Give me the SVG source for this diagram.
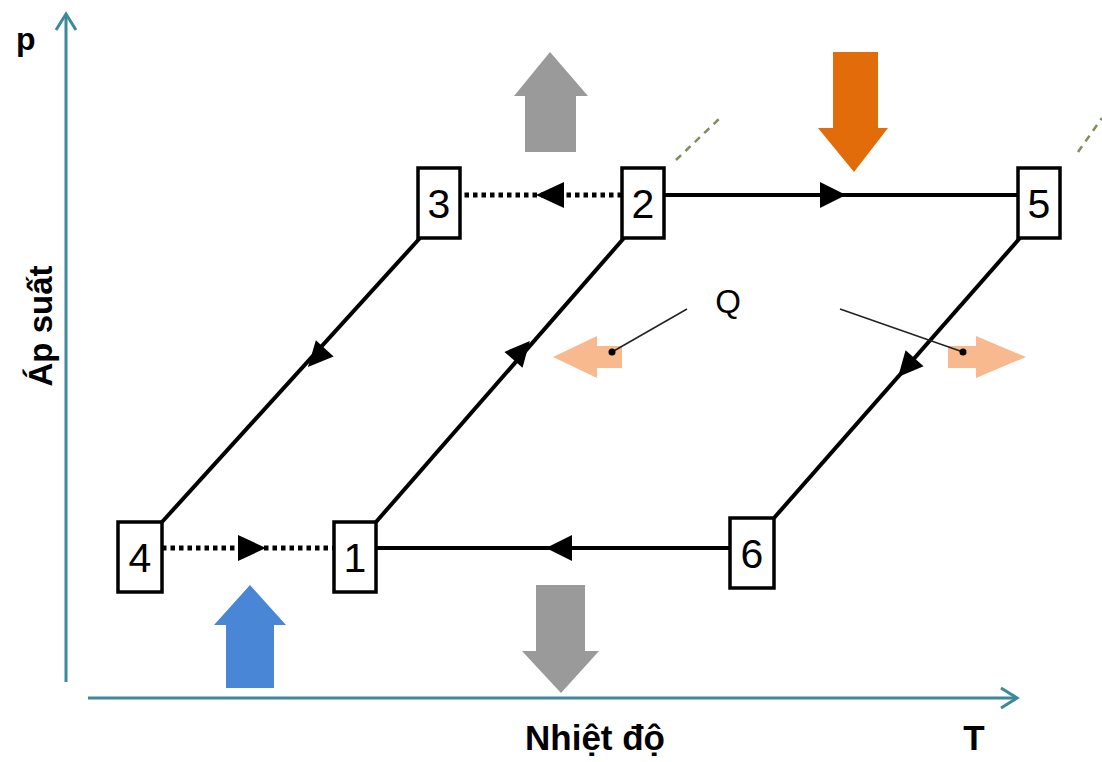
<svg xmlns="http://www.w3.org/2000/svg" width="1102" height="762" viewBox="0 0 1102 762">
<style>
.box{fill:#fff;stroke:#000;stroke-width:3.5}
.num{font-family:"Liberation Sans",Arial,sans-serif;font-size:41px;fill:#000;text-anchor:middle}
.ln{stroke:#000;stroke-width:4;fill:none}
.dot{stroke:#000;stroke-width:5;fill:none;stroke-dasharray:4.5 4}
.ax{stroke:#3a8a9c;stroke-width:3;fill:none}
.lbl{font-family:"Liberation Sans",Arial,sans-serif;font-weight:bold;fill:#000}
.lead{stroke:#222;stroke-width:1.5;fill:none}
.ah{fill:#000}
</style>
<rect width="1102" height="762" fill="#fff"/>

<g id="axes">
<line class="ax" x1="66" y1="682" x2="66" y2="14"/>
<polyline class="ax" points="56,30 66,14 76,30"/>
<line class="ax" x1="88" y1="698" x2="1016" y2="698"/>
<polyline class="ax" points="1001,688 1017,698 1001,708"/>
<text class="lbl" x="16" y="50" font-size="32">p</text>
<text class="lbl" font-size="33" transform="translate(52,326) rotate(-90)" text-anchor="middle">Áp suất</text>
<text class="lbl" x="595" y="750" font-size="35" text-anchor="middle">Nhiệt độ</text>
<text class="lbl" x="974" y="750" font-size="35" text-anchor="middle">T</text>
</g>

<g id="decor" stroke="#7f8f5a" stroke-width="2.5" stroke-dasharray="7 6" fill="none">
<line x1="676" y1="160" x2="720" y2="118"/>
<line x1="1078" y1="152" x2="1102" y2="118"/>
</g>

<g id="heat-arrows">
<polygon id="gray-up" points="525,152 525,96 514,96 550,52 588,96 576,96 576,152" fill="#9a9a9a"/>
<polygon id="orange-down" points="833,52 878,52 878,128 888,128 854,172 818,128 833,128" fill="#e36c0a"/>
<polygon id="blue-up" points="226,688 226,625 214,625 250,585 286,625 274,625 274,688" fill="#4a86d6"/>
<polygon id="gray-down" points="536,585 585,585 585,651 599,651 561,693 522,651 536,651" fill="#9a9a9a"/>
<polygon id="peach-left" points="622,346 622,368 597,368 597,378 553,357 597,336 597,346" fill="#f9b98f"/>
<polygon id="peach-right" points="948,346 948,368 976,368 976,378 1026,357 976,336 976,346" fill="#f9b98f"/>
</g>

<g id="connectors">
<line class="dot" x1="622" y1="195" x2="460" y2="195"/>
<line class="ln" x1="664" y1="195" x2="1018" y2="195"/>
<line class="dot" x1="162" y1="548" x2="334" y2="548"/>
<line class="ln" x1="376" y1="548" x2="730" y2="548"/>
<line class="ln" x1="420" y1="238" x2="162" y2="522"/>
<line class="ln" x1="376" y1="522" x2="624" y2="238"/>
<line class="ln" x1="1020" y1="238" x2="774" y2="518"/>
<path class="ah" d="M536,195 L564,182 L564,208 z"/>
<path class="ah" d="M846,195 L820,182 L820,208 z"/>
<path class="ah" d="M266,548 L238,535 L238,561 z"/>
<path class="ah" d="M546,548 L572,535 L572,561 z"/>
<g transform="translate(316,358) rotate(132.3)"><path class="ah" d="M12,0 L-13,-12 L-13,12 z"/></g>
<g transform="translate(522,350) rotate(-48.9)"><path class="ah" d="M12,0 L-13,-12 L-13,12 z"/></g>
<g transform="translate(906,368) rotate(131.3)"><path class="ah" d="M12,0 L-13,-12 L-13,12 z"/></g>
</g>

<g id="Q-label">
<text x="728" y="313" font-family="Liberation Sans,Arial,sans-serif" font-size="33" text-anchor="middle">Q</text>
<line class="lead" x1="687" y1="309" x2="612" y2="352"/>
<circle cx="612" cy="352" r="3.5" fill="#000"/>
<line class="lead" x1="840" y1="309" x2="963" y2="352"/>
<circle cx="963" cy="352" r="3.5" fill="#000"/>
</g>

<g id="node3"><rect class="box" x="418" y="168" width="42" height="70"/><text class="num" x="439" y="218">3</text></g>
<g id="node2"><rect class="box" x="622" y="168" width="42" height="70"/><text class="num" x="643" y="218">2</text></g>
<g id="node5"><rect class="box" x="1018" y="168" width="42" height="70"/><text class="num" x="1039" y="218">5</text></g>
<g id="node4"><rect class="box" x="118" y="522" width="44" height="70"/><text class="num" x="140" y="572">4</text></g>
<g id="node1"><rect class="box" x="334" y="522" width="42" height="70"/><text class="num" x="355" y="572">1</text></g>
<g id="node6"><rect class="box" x="730" y="518" width="44" height="70"/><text class="num" x="752" y="568">6</text></g>
</svg>
